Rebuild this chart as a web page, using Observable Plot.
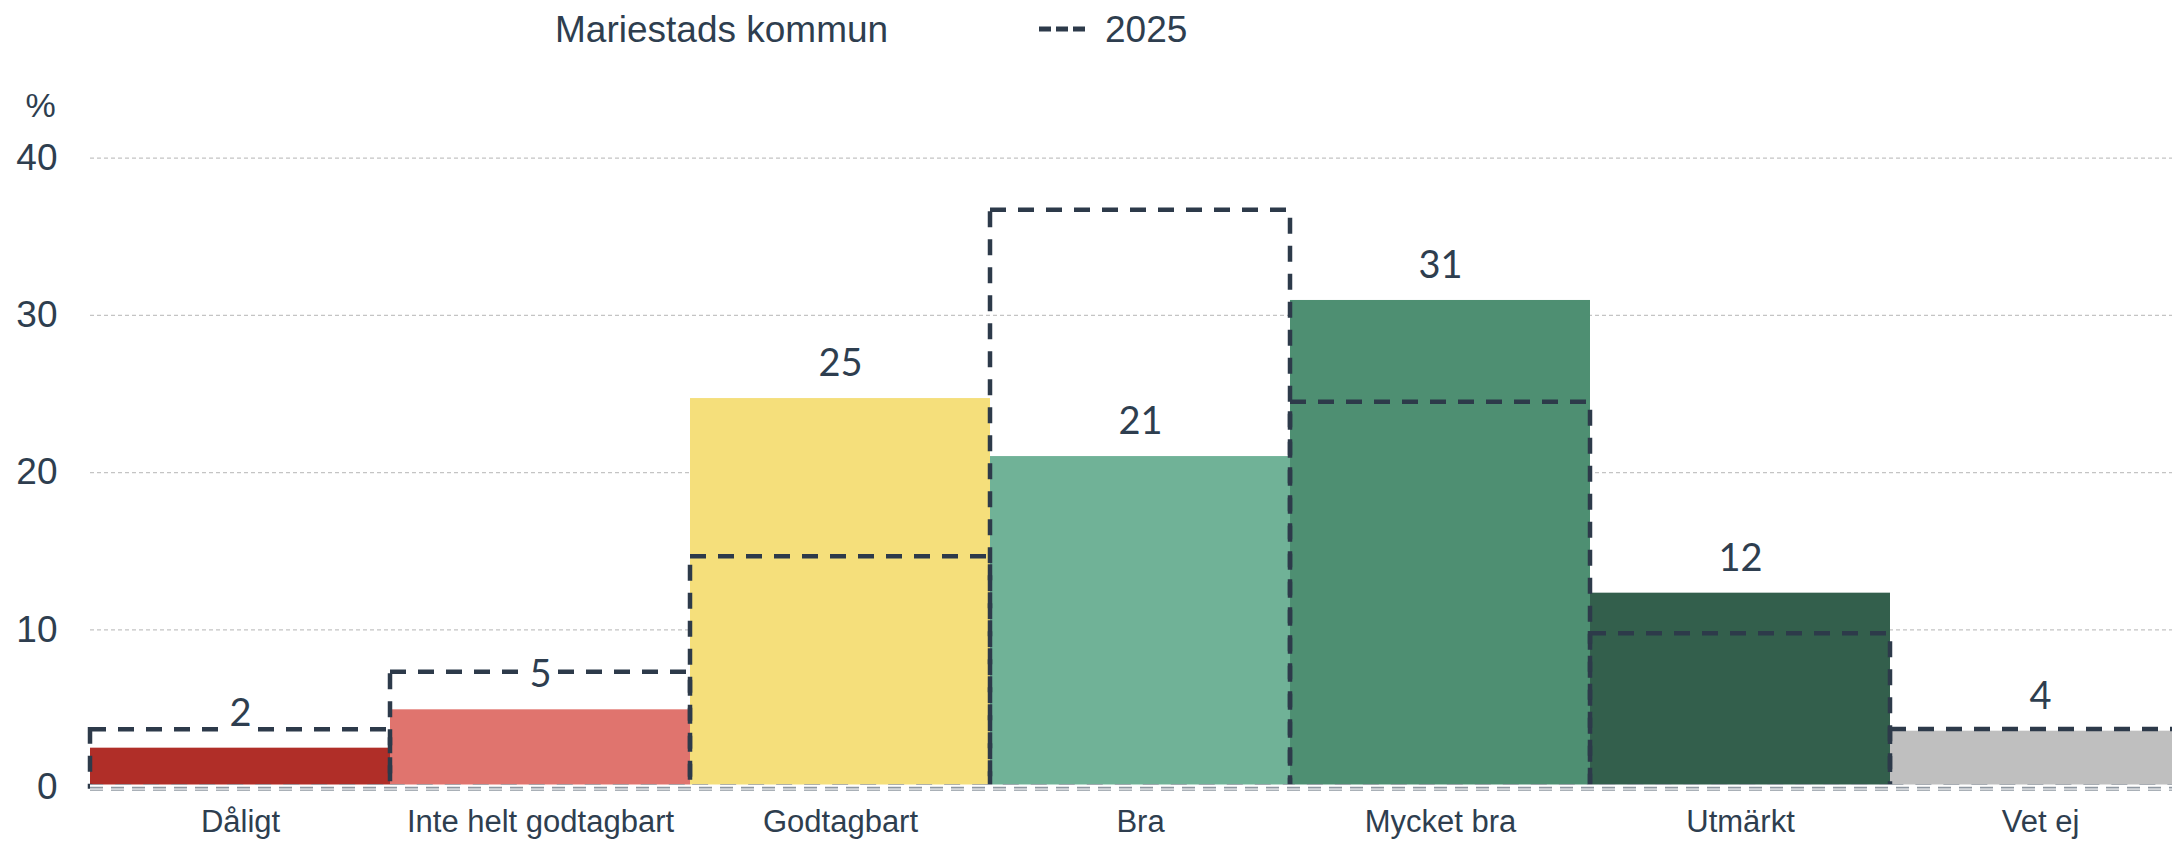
<!DOCTYPE html>
<html>
<head>
<meta charset="utf-8">
<script src="https://cdn.jsdelivr.net/npm/d3@7"></script>
<script src="https://cdn.jsdelivr.net/npm/@observablehq/plot@0.6"></script>
<style>
  html, body { margin: 0; padding: 0; background: #fff; overflow: hidden; }
  #wrap { width: 2172px; height: 842px; overflow: hidden; position: relative; }
  #legend { position: relative; height: 60px; width: 2172px; font-family: "Liberation Sans", Arial, sans-serif; font-size: 37px; color: #2e3e4f; }
  #legend .item { position: absolute; top: 8px; line-height: 44px; white-space: nowrap; }
  #chart { width: 2172px; overflow: hidden; }
  #chart svg { display: block; overflow: hidden; max-width: none !important; width: 2190px !important; height: 782px !important; }
</style>
</head>
<body>
<div id="wrap">
  <div id="legend"></div>
  <div id="chart"></div>
</div>
<script>
// ---- data ----
const categories = ["Dåligt", "Inte helt godtagbart", "Godtagbart", "Bra", "Mycket bra", "Utmärkt", "Vet ej"];
const kommunValues = [2.47, 4.91, 24.71, 21.02, 30.95, 12.33, 3.55];
const values2025 = [3.64, 7.30, 14.64, 36.69, 24.48, 9.75, 3.65];
const barColors = ["#b02e28", "#e0746e", "#f5df7b", "#70b297", "#4e8f72", "#335f4c", "#bfbfbf"];
const yTicks = [0, 10, 20, 30, 40];
const seriesNames = ["Mariestads kommun", "2025"];
const yUnit = "%";

const textColor = "#2e3e4f";
const dashColor = "#2d3a4a";

const rows = categories.map((c, i) => ({
  cat: c,
  kommun: kommunValues[i],
  y2025: values2025[i],
  color: barColors[i],
  label: String(Math.round(kommunValues[i]))
}));

// ---- legend ----
const legend = document.getElementById("legend");
const l1 = document.createElement("div");
l1.className = "item";
l1.style.left = "555px";
l1.textContent = seriesNames[0];
legend.appendChild(l1);
const l2 = document.createElement("div");
l2.className = "item";
l2.style.left = "1039px";
l2.innerHTML = `<svg width="48" height="20" style="vertical-align:middle;margin-right:18px;margin-top:-6px"><line x1="0" y1="10" x2="48" y2="10" stroke="${dashColor}" stroke-width="5" stroke-dasharray="12,5"/></svg><span></span>`;
l2.querySelector("span").textContent = seriesNames[1];
legend.appendChild(l2);

// ---- chart ----
const chart = Plot.plot({
  width: 2190,
  height: 782,
  marginLeft: 90,
  marginRight: 0,
  marginTop: 97.7,
  marginBottom: 55.5,
  style: { fontFamily: "'Liberation Sans', Arial, sans-serif", color: textColor, background: "#fff", maxWidth: "none" },
  x: { type: "band", domain: categories, padding: 0 },
  y: { domain: [0, 40], ticks: yTicks },
  marks: [
    Plot.gridY(yTicks.filter(t => t > 0), { stroke: "#c4c4c4", strokeOpacity: 1, strokeWidth: 1.2, strokeDasharray: "4,3" }),
    Plot.barY(rows, { x: "cat", y: "kommun", fill: "color" }),
    Plot.barY(rows, { x: "cat", y: "y2025", fill: "none", stroke: dashColor, strokeWidth: 4.5, strokeDasharray: "16,12" }),
    Plot.ruleY([0], { stroke: "#fff", strokeWidth: 5 }),
    Plot.ruleY([0], { stroke: "#8f98a1", strokeWidth: 1.8, strokeDasharray: "13,8", dy: 0.6 }),
    Plot.ruleY([0], { stroke: "#a9b0b7", strokeWidth: 1.4, strokeDasharray: "13,8", dy: 3.2 }),
    Plot.text(rows, {
      x: "cat", y: "kommun", text: "label", dy: -34.5,
      fill: textColor, stroke: "#fff", strokeWidth: 14, paintOrder: "stroke",
      fontFamily: "Lato, 'Liberation Sans', sans-serif", fontSize: 38
    }),
    Plot.axisX({ tickSize: 0, tickPadding: 23, fontSize: 31, label: null, fill: textColor }),
    Plot.axisY({ ticks: yTicks, tickSize: 0, tickPadding: 33, fontSize: 37, fill: textColor, label: null }),
    Plot.text([yUnit], {
      frameAnchor: "top-left", textAnchor: "start", lineAnchor: "top",
      dx: -65, dy: -65, fontSize: 34, fill: textColor
    })
  ]
});
document.getElementById("chart").appendChild(chart);
</script>
</body>
</html>
